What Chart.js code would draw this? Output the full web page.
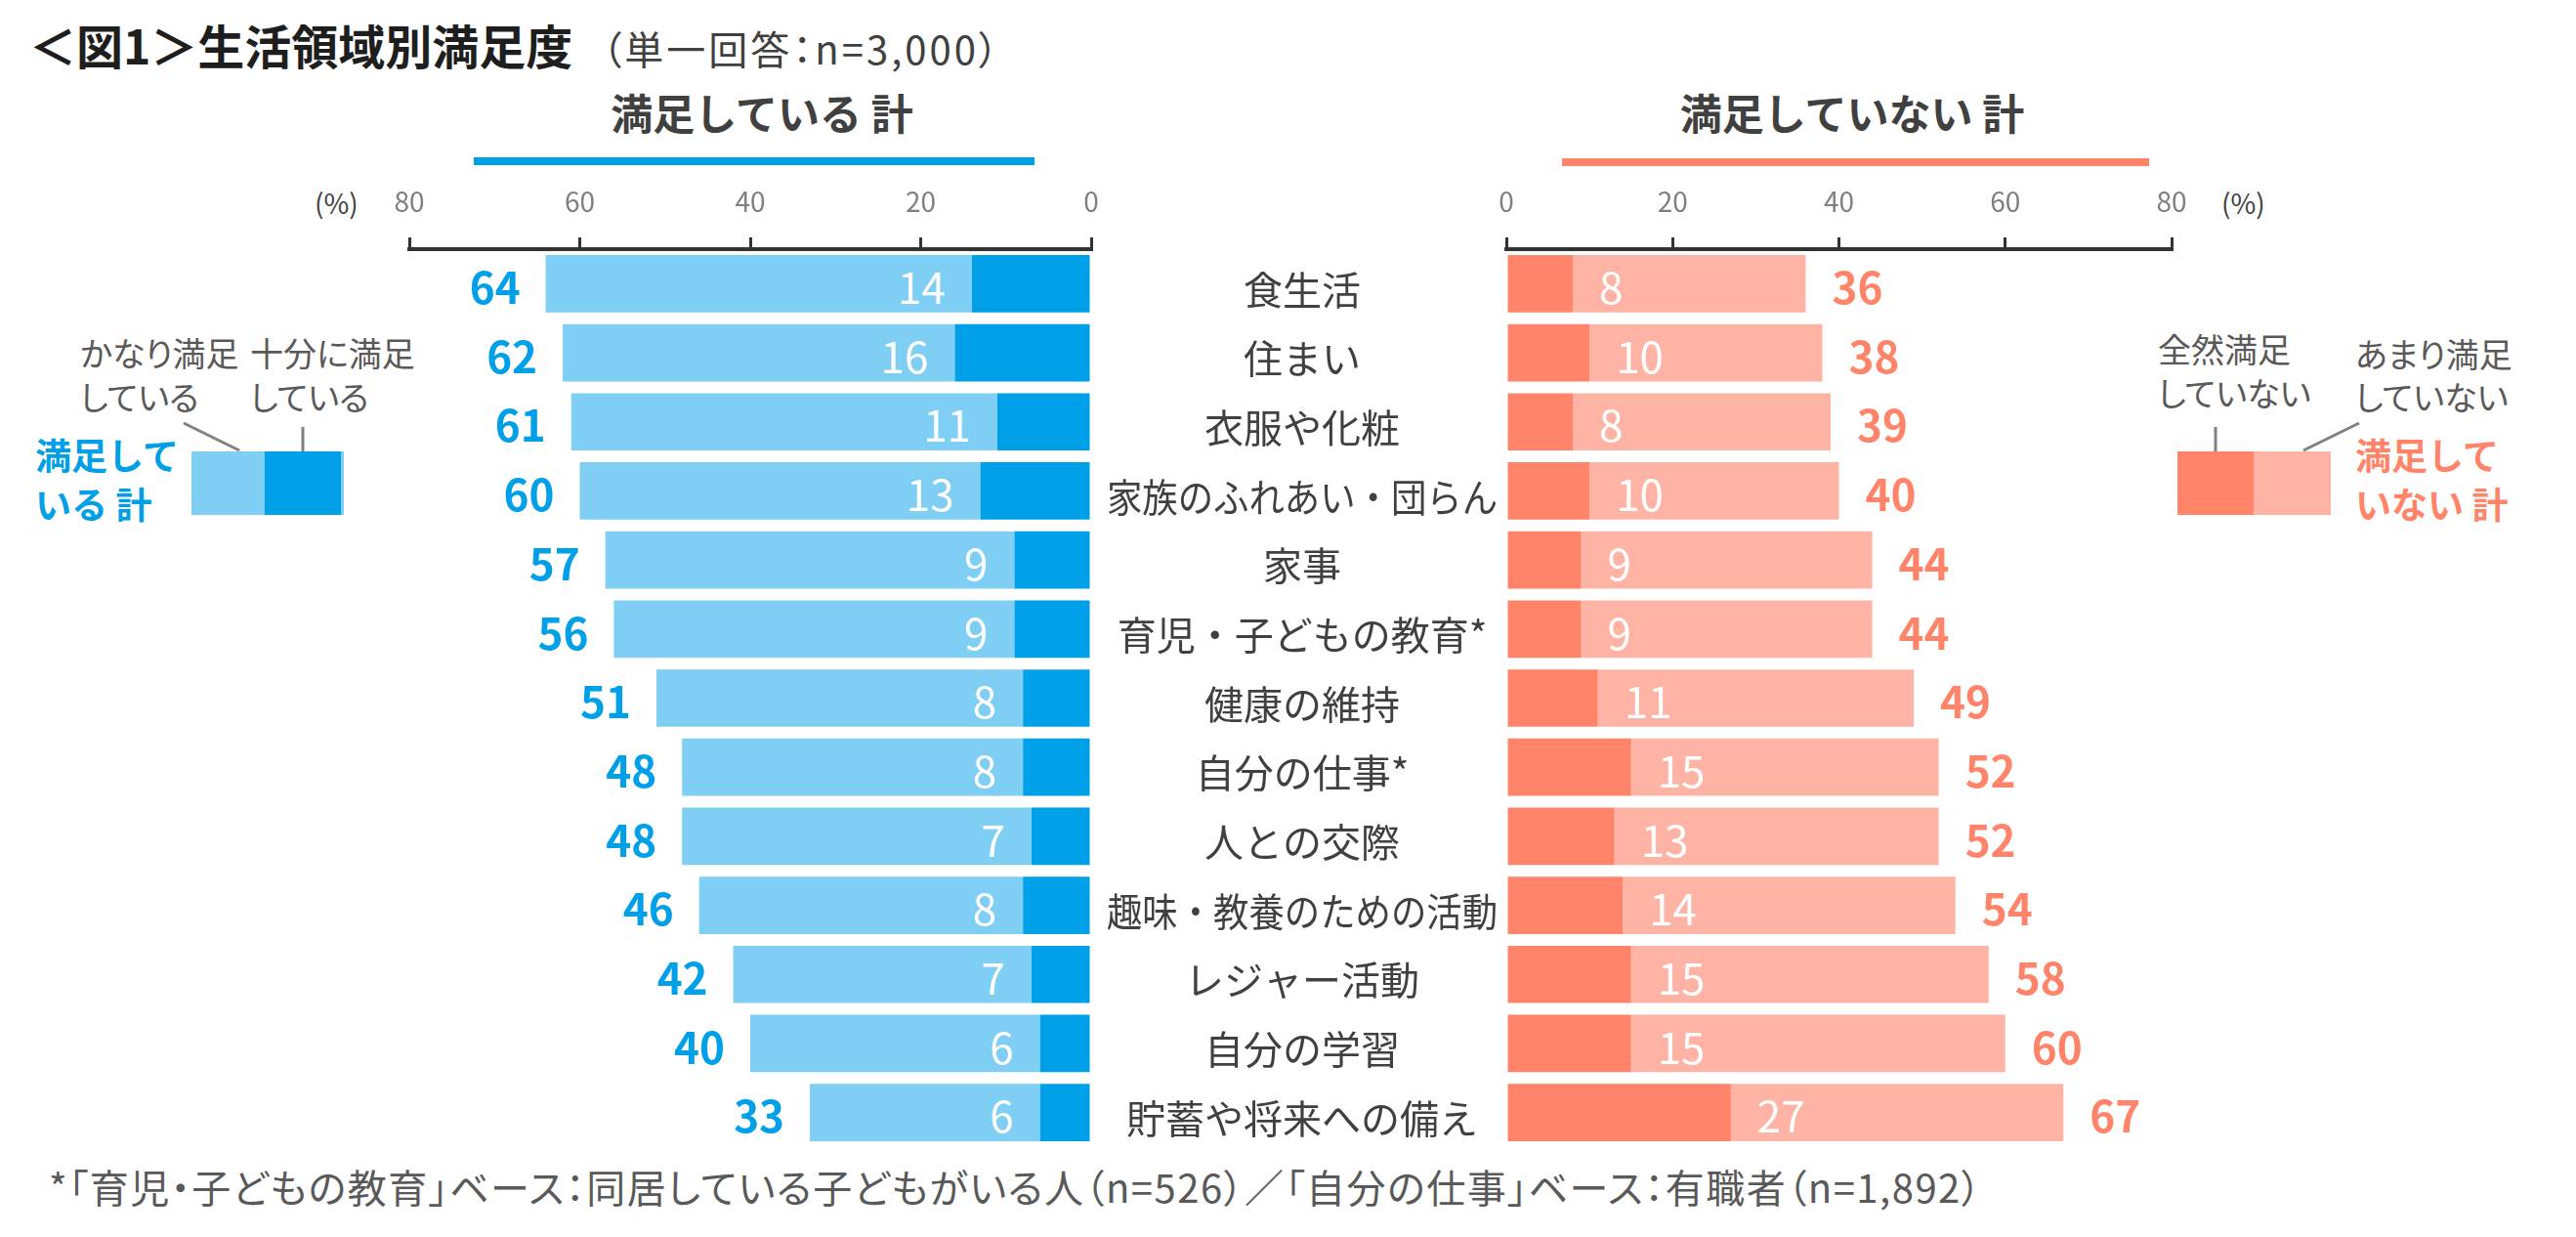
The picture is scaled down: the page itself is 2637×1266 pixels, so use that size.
<!DOCTYPE html>
<html lang="ja">
<head>
<meta charset="utf-8">
<script src="https://cdn.jsdelivr.net/npm/chart.js@4.4.1/dist/chart.umd.min.js"></script>
<style>
  html, body { margin:0; padding:0; background:#fff; }
  body { width:2637px; height:1266px; position:relative; overflow:hidden;
         font-family:'Noto Sans CJK JP','Noto Sans',sans-serif; }
  .t { position:absolute; white-space:nowrap; line-height:1; }
  .p { font-feature-settings:"palt"; }
  canvas { position:absolute; top:0; }
  .sw { position:absolute; }
</style>
</head>
<body>
<script>
// ---------- data ----------
const categories = ['食生活','住まい','衣服や化粧','家族のふれあい・団らん','家事','育児・子どもの教育*','健康の維持','自分の仕事*','人との交際','趣味・教養のための活動','レジャー活動','自分の学習','貯蓄や将来への備え'];
// 満足している
const fullySatisfied = [14,16,11,13,9,9,8,8,7,8,7,6,6];          // 十分に満足している
const quiteSatisfied = [50,46,50,47,48,47,43,40,41,38,35,34,27];  // かなり満足している
const satisfiedTotal = [64,62,61,60,57,56,51,48,48,46,42,40,33];  // 満足している 計
// 満足していない
const notAtAll   = [8,10,8,10,9,9,11,15,13,14,15,15,27];          // 全然満足していない
const notVery    = [28,28,31,30,35,35,38,37,39,40,43,45,40];       // あまり満足していない
const unsatisfiedTotal = [36,38,39,40,44,44,49,52,52,54,58,60,67]; // 満足していない 計
const tickValues = [0,20,40,60,80];
</script>

<div class="t p" style="left:30px;top:21px;font-size:48px;font-weight:700;color:#1e1e1e;">＜図1＞生活領域別満足度<span style="font-size:40px;font-weight:400;color:#404040;margin-left:30px;letter-spacing:3px;">（単一回答：n=3,000）</span></div>

<div class="t" style="left:480px;width:600px;text-align:center;top:93px;font-size:43px;font-weight:700;color:#404040;">満足している 計</div>
<div class="sw" style="left:485px;top:161px;width:574px;height:8px;background:#00A0E9;"></div>
<div class="t" style="left:1596px;width:600px;text-align:center;top:93px;font-size:43px;font-weight:700;color:#404040;">満足していない 計</div>
<div class="sw" style="left:1599px;top:162px;width:601px;height:8px;background:#FF8469;"></div>

<div class="t" style="left:322px;top:193px;font-size:28px;color:#404040;">(%)</div>
<div class="t" style="left:2274px;top:193px;font-size:28px;color:#404040;">(%)</div>

<!-- left legend -->
<div class="t p" style="left:82px;top:344px;font-size:34px;color:#595959;">かなり満足</div>
<div class="t p" style="left:82px;top:389px;font-size:34px;color:#595959;">している</div>
<div class="t p" style="left:256px;top:344px;font-size:34px;color:#595959;">十分に満足</div>
<div class="t p" style="left:256px;top:389px;font-size:34px;color:#595959;">している</div>
<div class="sw" style="left:196px;top:462px;width:75px;height:65px;background:#7FCEF4;"></div>
<div class="sw" style="left:271px;top:462px;width:78px;height:65px;background:#00A0E9;"></div>
<div class="sw" style="left:349px;top:462px;width:3px;height:65px;background:#7FCEF4;"></div>
<div class="t" style="left:36px;top:447px;font-size:37px;font-weight:700;color:#00A0E9;">満足して</div>
<div class="t" style="left:36px;top:497px;font-size:37px;font-weight:700;color:#00A0E9;">いる 計</div>

<!-- right legend -->
<div class="t p" style="left:2209px;top:340px;font-size:34px;color:#595959;">全然満足</div>
<div class="t p" style="left:2209px;top:385px;font-size:34px;color:#595959;">していない</div>
<div class="t p" style="left:2411px;top:345px;font-size:34px;color:#595959;">あまり満足</div>
<div class="t p" style="left:2411px;top:389px;font-size:34px;color:#595959;">していない</div>
<div class="sw" style="left:2229px;top:462px;width:78px;height:65px;background:#FF8469;"></div>
<div class="sw" style="left:2307px;top:462px;width:79px;height:65px;background:#FFB3A5;"></div>
<div class="t" style="left:2411px;top:447px;font-size:37px;font-weight:700;color:#FF8469;">満足して</div>
<div class="t" style="left:2411px;top:497px;font-size:37px;font-weight:700;color:#FF8469;">いない 計</div>

<svg style="position:absolute;left:0;top:0;" width="2637" height="1266">
  <g stroke="#808080" stroke-width="3">
    <line x1="188" y1="433" x2="245" y2="461"/>
    <line x1="310" y1="437" x2="310" y2="462"/>
    <line x1="2268" y1="437" x2="2268" y2="462"/>
    <line x1="2415" y1="433" x2="2358" y2="461"/>
  </g>
</svg>

<div class="t p" style="left:50px;top:1194px;font-size:40px;color:#595959;letter-spacing:1.5px;">*「育児・子どもの教育」ベース：同居している子どもがいる人（n=526）／「自分の仕事」ベース：有職者（n=1,892）</div>

<canvas id="left" width="1540" height="1266" style="left:0;"></canvas>
<canvas id="right" width="1137" height="1266" style="left:1500px;"></canvas>

<script>
const FONT = "'Noto Sans CJK JP','Noto Sans',sans-serif";
const BLUE = '#00A0E9', LBLUE = '#7FCEF4', RED = '#FF8469', LRED = '#FFB3A5';

function xAxis(reverse) {
  return {
    type: 'linear', position: 'top', min: 0, max: 80, reverse: reverse, stacked: true,
    afterBuildTicks: s => { s.ticks = tickValues.map(v => ({ value: v })); },
    afterFit: s => { s.height = 255; },
    grid: { display: true, drawOnChartArea: false, drawTicks: true, tickLength: 12, color: '#333', lineWidth: 3 },
    border: { display: true, color: '#333', width: 4 },
    ticks: { color: '#808080', padding: 20, font: { family: FONT, size: 28 } }
  };
}
const yAxis = { type: 'category', display: false, stacked: true, offset: true, grid: { display: false } };

const leftPlugin = {
  id: 'leftLabels',
  afterDatasetsDraw(chart) {
    const { ctx, chartArea, scales: { x, y } } = chart;
    ctx.save();
    ctx.textBaseline = 'middle';
    categories.forEach((c, i) => {
      const yc = y.getPixelForValue(i);
      ctx.textAlign = 'right';
      ctx.font = `400 44px ${FONT}`;
      ctx.fillStyle = '#ffffff';
      ctx.fillText(String(fullySatisfied[i]), x.getPixelForValue(fullySatisfied[i]) - 27, yc + 4);
      ctx.font = `700 44px ${FONT}`;
      ctx.fillStyle = BLUE;
      ctx.fillText(String(satisfiedTotal[i]), x.getPixelForValue(fullySatisfied[i] + quiteSatisfied[i]) - 26, yc + 4);
      ctx.textAlign = 'center';
      ctx.font = `400 40px ${FONT}`;
      ctx.fillStyle = '#404040';
      ctx.fillText(c, chartArea.right + 216, yc + 6, 400);
    });
    ctx.restore();
  }
};
const rightPlugin = {
  id: 'rightLabels',
  afterDatasetsDraw(chart) {
    const { ctx, scales: { x, y } } = chart;
    ctx.save();
    ctx.textBaseline = 'middle';
    ctx.textAlign = 'left';
    categories.forEach((c, i) => {
      const yc = y.getPixelForValue(i);
      ctx.font = `400 44px ${FONT}`;
      ctx.fillStyle = '#ffffff';
      ctx.fillText(String(notAtAll[i]), x.getPixelForValue(notAtAll[i]) + 27, yc + 4);
      ctx.font = `700 44px ${FONT}`;
      ctx.fillStyle = RED;
      ctx.fillText(String(unsatisfiedTotal[i]), x.getPixelForValue(notAtAll[i] + notVery[i]) + 27, yc + 4);
    });
    ctx.restore();
  }
};

const common = {
  responsive: false, animation: false, devicePixelRatio: 1, indexAxis: 'y',
  plugins: { legend: { display: false }, tooltip: { enabled: false } }
};

new Chart(document.getElementById('left'), {
  type: 'bar',
  data: {
    labels: categories,
    datasets: [
      { label: '十分に満足している', data: fullySatisfied, backgroundColor: BLUE, barPercentage: 0.83, categoryPercentage: 1 },
      { label: 'かなり満足している', data: quiteSatisfied, backgroundColor: LBLUE, barPercentage: 0.83, categoryPercentage: 1 }
    ]
  },
  options: Object.assign({}, common, {
    layout: { padding: { left: 419, right: 1540 - 1117, top: 0, bottom: 92 } },
    scales: { x: xAxis(true), y: yAxis }
  }),
  plugins: [leftPlugin]
});

new Chart(document.getElementById('right'), {
  type: 'bar',
  data: {
    labels: categories,
    datasets: [
      { label: '全然満足していない', data: notAtAll, backgroundColor: RED, barPercentage: 0.83, categoryPercentage: 1 },
      { label: 'あまり満足していない', data: notVery, backgroundColor: LRED, barPercentage: 0.83, categoryPercentage: 1 }
    ]
  },
  options: Object.assign({}, common, {
    layout: { padding: { left: 42, right: 414, top: 0, bottom: 92 } },
    scales: { x: xAxis(false), y: yAxis }
  }),
  plugins: [rightPlugin]
});
</script>
</body>
</html>
